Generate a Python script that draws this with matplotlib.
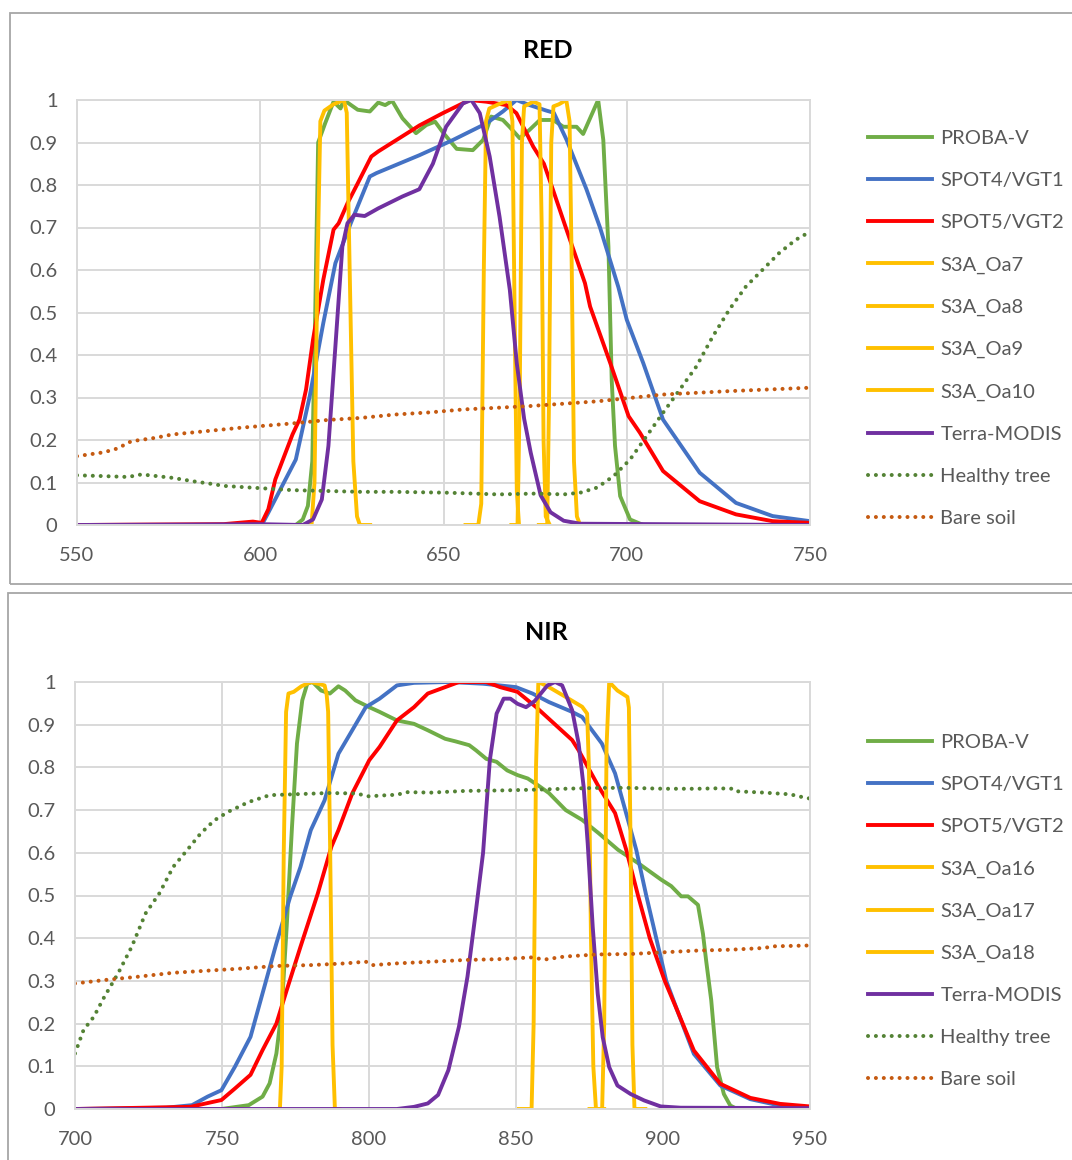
import matplotlib
matplotlib.use("Agg")
import matplotlib.pyplot as plt
from matplotlib.patches import Rectangle

plt.rcParams['font.family'] = ['Lato', 'DejaVu Sans']

# ---------------- RED band data ----------------
red_xticks = [550, 600, 650, 700, 750]

red_probav_wl = [550, 600, 609.7, 611.6, 613, 614.2, 615, 615.8, 617.7, 620, 621.9, 622.8, 626.6,
                 629.9, 632.2, 634.1, 636, 638.8, 642.5, 645.3, 647.7, 650, 653.6, 658, 660.8, 663,
                 666.2, 668, 670.8, 673.5, 676.3, 679.9, 682.7, 686.3, 688.1, 690.4, 692.2, 693.6,
                 695, 695.9, 696.8, 698.2, 700.9, 704.5, 750]
red_probav = [0, 0, 0, 0.013, 0.045, 0.15, 0.5, 0.9, 0.945, 0.996, 0.98, 1.0, 0.977,
              0.973, 0.994, 0.988, 0.998, 0.957, 0.922, 0.941, 0.949, 0.922, 0.885, 0.882, 0.906, 0.961,
              0.953, 0.937, 0.91, 0.93, 0.953, 0.953, 0.937, 0.937, 0.92, 0.965, 1.0, 0.906,
              0.655, 0.34, 0.186, 0.068, 0.013, 0, 0]

red_spot4_wl = [550, 600.4, 602.2, 609.7, 613.5, 617.2, 620.5, 624.7, 629.9, 631.7, 643.4, 652.6,
                661.7, 666.2, 669.9, 673.5, 678.1, 680.1, 683.6, 689, 692.7, 697.7, 700, 704.5,
                709.9, 719.9, 729.8, 739.8, 750]
red_spot4 = [0, 0, 0.029, 0.154, 0.303, 0.475, 0.616, 0.71, 0.82, 0.828, 0.87, 0.906,
             0.945, 0.973, 1.0, 0.988, 0.975, 0.97, 0.906, 0.79, 0.7, 0.56, 0.483, 0.381,
             0.248, 0.123, 0.052, 0.021, 0.009]

red_spot5_wl = [550, 590, 598, 600.4, 602.2, 604.1, 608.8, 610.7, 612.5, 614.4, 617.2, 620, 621.4,
                623.8, 626.6, 630.3, 632.2, 641.6, 643.4, 649.8, 657.1, 661.7, 667.2, 669.9, 674.5,
                677.4, 679.9, 683.6, 688.6, 690, 695.5, 700.5, 703.6, 709.9, 719.9, 729.8, 739.8, 750]
red_spot5 = [0, 0.002, 0.008, 0.005, 0.037, 0.107, 0.213, 0.248, 0.319, 0.436, 0.577, 0.695, 0.71,
             0.757, 0.804, 0.867, 0.879, 0.93, 0.94, 0.969, 1.0, 0.996, 0.988, 0.969, 0.89,
             0.85, 0.788, 0.694, 0.569, 0.514, 0.381, 0.256, 0.217, 0.127, 0.056, 0.025, 0.009, 0.005]

red_oa7_wl = [612, 614, 614.8, 615.6, 616.4, 617.5, 620, 622.8, 623.6, 624.4, 625.4, 626.4, 627.2, 630]
red_oa7 = [0, 0, 0.1, 0.6, 0.95, 0.975, 0.99, 1.0, 0.97, 0.6, 0.15, 0.02, 0, 0]
red_oa8_wl = [656, 659.5, 660.3, 661.0, 661.6, 662.5, 665, 668, 668.8, 669.4, 670, 670.6]
red_oa8 = [0, 0, 0.05, 0.6, 0.95, 0.98, 0.99, 1.0, 0.95, 0.5, 0.08, 0]
red_oa9_wl = [668.5, 670.2, 670.8, 671.4, 672, 674.5, 676.2, 676.8, 677.3, 677.9, 679]
red_oa9 = [0, 0, 0.3, 0.9, 0.985, 0.996, 0.99, 0.7, 0.2, 0.02, 0]
red_oa10_wl = [676, 678.3, 678.8, 679.4, 680, 681.5, 683.5, 684.4, 685, 685.6, 686.4, 687.3]
red_oa10 = [0, 0, 0.3, 0.9, 0.985, 0.99, 1.0, 0.95, 0.6, 0.15, 0.02, 0]

red_modis_wl = [550, 580, 600, 611.6, 614.4, 616.8, 618.6, 620.5, 622.4, 623.8, 625.7, 628.5, 632.2,
                638.8, 643.4, 647.1, 650.7, 655.3, 657.6, 659.9, 662.6, 665.3, 668.1, 670, 672,
                673.8, 676.5, 679.2, 682.8, 687.3, 750]
red_modis = [0, 0.001, 0.002, 0, 0.013, 0.06, 0.186, 0.42, 0.655, 0.71, 0.73, 0.727, 0.745,
             0.773, 0.79, 0.85, 0.937, 0.992, 1.0, 0.969, 0.867, 0.725, 0.553, 0.38, 0.25,
             0.17, 0.07, 0.03, 0.01, 0.003, 0]

red_tree_wl = [550, 557.3, 563.9, 567.6, 576, 581.6, 587.3, 590, 599.4, 608.8, 618.2, 627.5, 636.9,
               650.9, 665, 675.3, 682.8, 687.3, 691.9, 696.4, 700.9, 705.4, 709.9, 714.5, 719,
               723.5, 728, 732.5, 737, 741.6, 746.1, 750]
red_tree = [0.117, 0.115, 0.113, 0.119, 0.111, 0.103, 0.096, 0.092, 0.087, 0.082, 0.08, 0.078, 0.078,
            0.076, 0.072, 0.074, 0.072, 0.076, 0.088, 0.115, 0.154, 0.209, 0.264, 0.319, 0.373,
            0.444, 0.507, 0.561, 0.6, 0.64, 0.671, 0.69]

red_soil_wl = [550, 557.3, 561, 564.8, 571.3, 576, 585.4, 594.8, 600.4, 608.8, 618.2, 627.5, 636.9,
               646.3, 655.6, 665, 673.8, 692, 709.9, 728, 750]
red_soil = [0.162, 0.171, 0.18, 0.197, 0.205, 0.213, 0.221, 0.229, 0.233, 0.239, 0.247, 0.252, 0.26,
            0.265, 0.272, 0.276, 0.28, 0.291, 0.307, 0.315, 0.323]

# ---------------- NIR band data ----------------
nir_xticks = [700, 750, 800, 850, 900, 950]

nir_probav_wl = [700, 749.8, 759.1, 763.8, 766.2, 768.5, 770.3, 772, 773.8, 775.5, 777.3, 779, 780.8,
                 783.7, 786.7, 789.6, 791.9, 795.4, 800.1, 803.6, 809.5, 815.3, 820, 825.9, 829.4,
                 834.1, 836.4, 839.9, 843.4, 847, 850.5, 854, 857.5, 861.2, 866.9, 872.5, 878.1,
                 884.7, 891.5, 899.4, 902.8, 906.2, 908.5, 911.9, 913.6, 914.7, 916.4, 918.4,
                 920.7, 922.9, 925.2, 950]
nir_probav = [0, 0, 0.009, 0.029, 0.06, 0.13, 0.232, 0.427, 0.66, 0.856, 0.957, 0.996, 1.0,
              0.98, 0.973, 0.99, 0.98, 0.957, 0.941, 0.93, 0.91, 0.902, 0.887, 0.867, 0.861,
              0.852, 0.84, 0.82, 0.813, 0.793, 0.782, 0.774, 0.758, 0.74, 0.7, 0.677, 0.646,
              0.607, 0.576, 0.537, 0.522, 0.498, 0.498, 0.478, 0.41, 0.346, 0.255, 0.098,
              0.035, 0.008, 0, 0]

nir_spot4_wl = [700, 731, 739.8, 745.1, 749.8, 754.4, 759.7, 763.8, 768.5, 773.2, 776.7, 780.2, 784.9,
                789.6, 794.3, 798.9, 803.6, 809.5, 815.3, 827, 838.8, 850, 855.6, 861.2, 869.1,
                872.5, 879.2, 883.7, 890.9, 894.3, 897.7, 901.1, 904.9, 910.5, 919.5, 929.7, 939.8, 950]
nir_spot4 = [0, 0.003, 0.009, 0.029, 0.044, 0.099, 0.169, 0.271, 0.388, 0.497, 0.567, 0.653, 0.723,
             0.832, 0.887, 0.941, 0.961, 0.992, 0.998, 1.0, 0.996, 0.988, 0.973, 0.953, 0.93,
             0.918, 0.856, 0.786, 0.607, 0.5, 0.4, 0.3, 0.23, 0.129, 0.055, 0.023, 0.008, 0.004]

nir_spot5_wl = [700, 739.2, 749.8, 754.4, 759.7, 763.8, 768.5, 772, 776.7, 782.6, 787.2, 789.6, 794.3,
                800.1, 803.6, 809.5, 815.3, 820, 825.9, 830.6, 839.9, 844.6, 850.5, 856.7, 869.1,
                871.3, 878.1, 883.7, 887.5, 891.5, 895.5, 900.6, 904.9, 910.5, 919.5, 929.7, 939.8, 950]
nir_spot5 = [0, 0.005, 0.021, 0.048, 0.08, 0.138, 0.2, 0.278, 0.38, 0.505, 0.614, 0.653, 0.739,
             0.817, 0.848, 0.91, 0.941, 0.973, 0.988, 1.0, 1.0, 0.988, 0.977, 0.942, 0.864,
             0.84, 0.755, 0.693, 0.607, 0.5, 0.4, 0.3, 0.23, 0.137, 0.059, 0.026, 0.012, 0.006]

nir_oa16_wl = [766, 769.7, 770.3, 771, 771.8, 772.6, 774.4, 777, 780.2, 784.9, 785.6, 786.1, 786.8,
               787.6, 788.4, 790]
nir_oa16 = [0, 0, 0.1, 0.6, 0.93, 0.973, 0.977, 0.99, 1.0, 0.992, 0.97, 0.93, 0.6, 0.15, 0, 0]
nir_oa17_wl = [851, 855.3, 856, 856.8, 857.6, 861.2, 866.9, 872.5, 874.2, 874.8, 875.5, 876.3, 877.2, 880]
nir_oa17 = [0, 0, 0.2, 0.8, 1.0, 0.988, 0.965, 0.942, 0.926, 0.8, 0.4, 0.1, 0, 0]
nir_oa18_wl = [875, 879.3, 880, 880.8, 881.7, 884.5, 887.9, 888.4, 889, 889.6, 890.3, 894]
nir_oa18 = [0, 0, 0.2, 0.85, 1.0, 0.98, 0.965, 0.94, 0.6, 0.15, 0, 0]

nir_modis_wl = [700, 809.5, 815.3, 820, 823.5, 827, 830.6, 833.5, 836.4, 838.8, 841.1, 843.4, 845.8,
                848.1, 850.5, 853.4, 856.3, 860.7, 863.3, 865.7, 869.1, 871.3, 873, 874.4, 876.1,
                877.8, 879.5, 881.7, 884.5, 889, 893.6, 899.2, 906, 950]
nir_modis = [0, 0, 0.005, 0.013, 0.033, 0.091, 0.193, 0.31, 0.466, 0.6, 0.817, 0.926, 0.961,
             0.961, 0.949, 0.941, 0.955, 0.992, 1.0, 0.992, 0.934, 0.856, 0.755, 0.621, 0.426,
             0.27, 0.168, 0.098, 0.055, 0.035, 0.02, 0.006, 0.003, 0.002]

nir_tree_wl = [700, 702.9, 706.4, 710, 714.6, 719.3, 724, 728.7, 733.4, 738.1, 742.7, 747.4, 752.1,
               759.1, 766.2, 774.4, 786.1, 795.6, 800.1, 803.6, 809.5, 813, 821.2, 832.9, 844.6,
               857.5, 866.5, 877.8, 889, 900.3, 911.6, 918.4, 924, 925.2, 934.2, 943.2, 947.7, 950]
nir_tree = [0.13, 0.185, 0.216, 0.263, 0.317, 0.38, 0.458, 0.505, 0.567, 0.606, 0.645, 0.676, 0.696,
            0.719, 0.735, 0.737, 0.74, 0.739, 0.732, 0.734, 0.736, 0.742, 0.741, 0.745, 0.746,
            0.748, 0.75, 0.752, 0.752, 0.75, 0.75, 0.751, 0.75, 0.744, 0.741, 0.737, 0.73, 0.727]

nir_soil_wl = [700, 710, 721.7, 733.4, 745.1, 756.8, 768.5, 780.2, 791.9, 798.9, 801.3, 809.5, 821.2,
               832.9, 844.6, 855.2, 859.7, 866.5, 877.8, 889, 900.3, 911.6, 922.9, 934.2, 937.6, 950]
nir_soil = [0.294, 0.302, 0.31, 0.319, 0.324, 0.329, 0.335, 0.337, 0.341, 0.345, 0.337, 0.341, 0.345,
            0.349, 0.351, 0.355, 0.35, 0.357, 0.362, 0.363, 0.367, 0.371, 0.373, 0.377, 0.381, 0.383]

yticks = [0, 0.1, 0.2, 0.3, 0.4, 0.5, 0.6, 0.7, 0.8, 0.9, 1]
ylabels = ['0', '0.1', '0.2', '0.3', '0.4', '0.5', '0.6', '0.7', '0.8', '0.9', '1']

GREEN = '#70AD47'
BLUE = '#4472C4'
RED = '#FF0000'
YELLOW = '#FFC000'
PURPLE = '#7030A0'
TREE = '#548235'
SOIL = '#C55A11'
GRID = '#d9d9d9'
TXT = '#595959'
LW = 2.8

W, H = 1072, 1160
fig = plt.figure(figsize=(W / 100, H / 100), dpi=100)


def px_rect(left, top, right, bottom):
    return [left / W, 1 - bottom / H, (right - left) / W, (bottom - top) / H]


def dotted(ax, x, y, color, label):
    ax.plot(x, y, color=color, lw=2.9, linestyle=(0, (0.01, 1.95)),
            dash_capstyle='round', label=label)


def style_axes(ax, xticks):
    ax.set_xlim(xticks[0], xticks[-1])
    ax.set_ylim(0, 1)
    ax.set_xticks(xticks)
    ax.set_yticks(yticks)
    ax.set_yticklabels(ylabels)
    ax.grid(True, color=GRID, lw=1.4)
    ax.set_axisbelow(True)
    for s in ax.spines.values():
        s.set_color(GRID)
        s.set_linewidth(1.4)
    ax.tick_params(length=0, labelsize=14.5, labelcolor=TXT)
    ax.tick_params(axis='y', pad=14)
    ax.tick_params(axis='x', pad=15.5)


def legend(ax, top_px):
    ax.legend(loc='upper left', bbox_to_anchor=(868 / W, 1 - top_px / H),
              bbox_transform=fig.transFigure, frameon=False, fontsize=14.5,
              handlelength=3.2, handletextpad=0.4, labelspacing=1.24,
              borderpad=0, borderaxespad=0, labelcolor=TXT)


# chart frames
for (l, t, b) in [(10, 13, 584), (8, 593, 1200)]:
    fig.add_artist(Rectangle((l / W, 1 - b / H), 1.2, (b - t) / H, transform=fig.transFigure,
                             fill=False, edgecolor='#a6a6a6', lw=1.3))

# ---- RED ----
ax1 = fig.add_axes(px_rect(77, 100, 810, 525))
ax1.plot(red_probav_wl, red_probav, color=GREEN, lw=LW, label='PROBA-V')
ax1.plot(red_spot4_wl, red_spot4, color=BLUE, lw=LW, label='SPOT4/VGT1')
ax1.plot(red_spot5_wl, red_spot5, color=RED, lw=LW, label='SPOT5/VGT2')
ax1.plot(red_oa7_wl, red_oa7, color=YELLOW, lw=LW, label='S3A_Oa7')
ax1.plot(red_oa8_wl, red_oa8, color=YELLOW, lw=LW, label='S3A_Oa8')
ax1.plot(red_oa9_wl, red_oa9, color=YELLOW, lw=LW, label='S3A_Oa9')
ax1.plot(red_oa10_wl, red_oa10, color=YELLOW, lw=LW, label='S3A_Oa10')
ax1.plot(red_modis_wl, red_modis, color=PURPLE, lw=LW, label='Terra-MODIS')
dotted(ax1, red_tree_wl, red_tree, TREE, 'Healthy tree')
dotted(ax1, red_soil_wl, red_soil, SOIL, 'Bare soil')
style_axes(ax1, red_xticks)
legend(ax1, 130)
fig.text(548 / W, 1 - 50 / H, 'RED', ha='center', va='center', fontsize=18,
         fontweight='bold', color='black')

# ---- NIR ----
ax2 = fig.add_axes(px_rect(75, 682, 810, 1109))
ax2.plot(nir_probav_wl, nir_probav, color=GREEN, lw=LW, label='PROBA-V')
ax2.plot(nir_spot4_wl, nir_spot4, color=BLUE, lw=LW, label='SPOT4/VGT1')
ax2.plot(nir_spot5_wl, nir_spot5, color=RED, lw=LW, label='SPOT5/VGT2')
ax2.plot(nir_oa16_wl, nir_oa16, color=YELLOW, lw=LW, label='S3A_Oa16')
ax2.plot(nir_oa17_wl, nir_oa17, color=YELLOW, lw=LW, label='S3A_Oa17')
ax2.plot(nir_oa18_wl, nir_oa18, color=YELLOW, lw=LW, label='S3A_Oa18')
ax2.plot(nir_modis_wl, nir_modis, color=PURPLE, lw=LW, label='Terra-MODIS')
dotted(ax2, nir_tree_wl, nir_tree, TREE, 'Healthy tree')
dotted(ax2, nir_soil_wl, nir_soil, SOIL, 'Bare soil')
style_axes(ax2, nir_xticks)
legend(ax2, 734)
fig.text(546 / W, 1 - 632 / H, 'NIR', ha='center', va='center', fontsize=18,
         fontweight='bold', color='black')

fig.savefig('out.png', dpi=100)
